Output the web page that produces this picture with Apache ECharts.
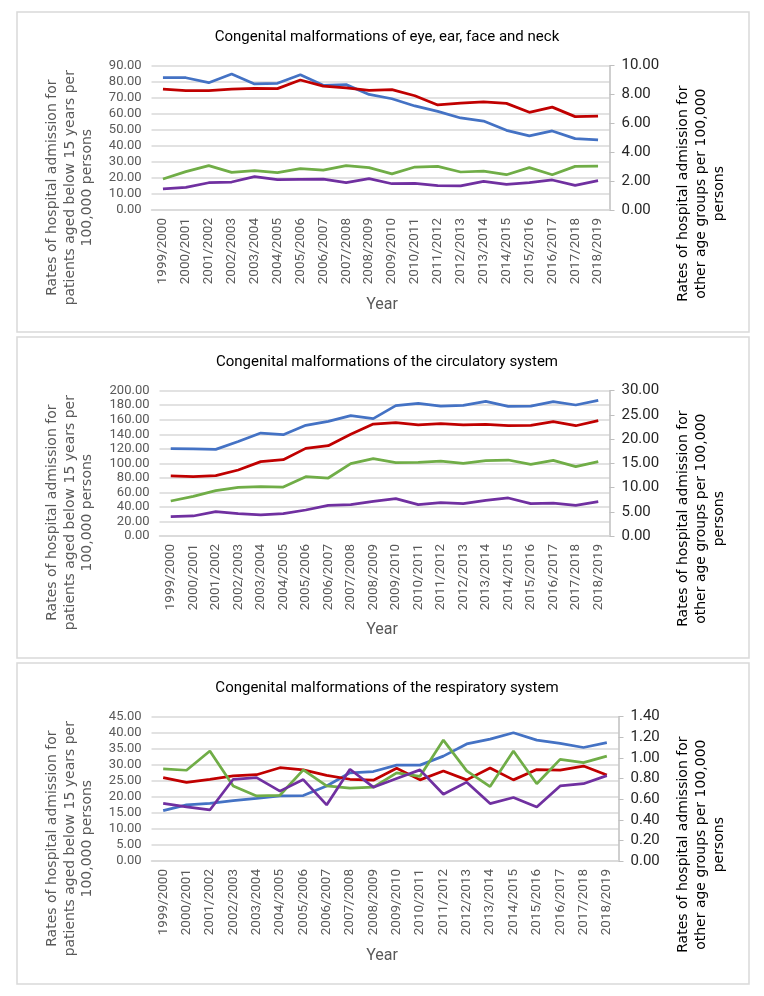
<!DOCTYPE html>
<html>
<head>
<meta charset="utf-8">
<script src="https://cdn.jsdelivr.net/npm/echarts@6/dist/echarts.min.js"></script>
<style>
  html, body { margin: 0; padding: 0; background: #fff; }
  #chart { width: 764px; height: 996px; }
</style>
</head>
<body>
<div id="chart"></div>
<script>
// years on the category axis
const years = ["1999/2000", "2000/2001", "2001/2002", "2002/2003", "2003/2004", "2004/2005", "2005/2006",
  "2006/2007", "2007/2008", "2008/2009", "2009/2010", "2010/2011", "2011/2012", "2012/2013", "2013/2014",
  "2014/2015", "2015/2016", "2016/2017", "2017/2018", "2018/2019"];

// eye, ear, face and neck
const eyeBlue = [82.5, 82.5, 79.4, 84.8, 78.6, 79.0, 84.4, 77.8, 78.2, 72.1, 69.4, 64.9, 61.5, 57.4, 55.5, 49.7, 46.2, 49.3, 44.5, 43.7];
const eyeGreen = [19.3, 23.9, 27.7, 23.5, 24.5, 23.3, 25.8, 24.9, 27.7, 26.4, 22.5, 26.8, 27.2, 23.7, 24.3, 22.0, 26.4, 22.0, 27.2, 27.4];
const eyeRed = [8.37, 8.27, 8.27, 8.37, 8.43, 8.41, 9.01, 8.59, 8.46, 8.29, 8.34, 7.92, 7.28, 7.41, 7.49, 7.39, 6.77, 7.13, 6.47, 6.51];
const eyePurple = [1.46, 1.57, 1.89, 1.94, 2.31, 2.10, 2.12, 2.14, 1.89, 2.17, 1.82, 1.84, 1.69, 1.67, 1.99, 1.78, 1.89, 2.08, 1.71, 2.03];

// circulatory system
const circBlue = [120.2, 120.0, 119.3, 130.0, 141.7, 139.4, 152.3, 157.8, 165.6, 161.5, 179.4, 182.6, 178.9, 179.8, 185.3, 178.4, 178.9, 184.9, 180.3, 186.7];
const circGreen = [48.2, 54.6, 62.4, 67.0, 67.9, 67.4, 81.7, 79.8, 99.5, 106.4, 100.9, 101.4, 103.2, 100.0, 103.7, 104.6, 98.6, 104.1, 95.4, 102.3];
const circRed = [12.39, 12.26, 12.45, 13.62, 15.35, 15.75, 18.09, 18.65, 20.99, 23.12, 23.40, 22.92, 23.19, 22.92, 23.06, 22.77, 22.85, 23.60, 22.77, 23.81];
const circPurple = [3.99, 4.13, 5.03, 4.61, 4.34, 4.61, 5.37, 6.33, 6.47, 7.16, 7.71, 6.47, 6.89, 6.68, 7.37, 7.85, 6.68, 6.81, 6.33, 7.08];

// respiratory system
const respBlue = [15.7, 17.5, 18.0, 18.8, 19.5, 20.3, 20.4, 23.4, 27.5, 27.9, 29.9, 29.9, 32.7, 36.5, 38.0, 40.0, 37.7, 36.7, 35.4, 36.9];
const respGreen = [28.7, 28.3, 34.3, 23.4, 20.3, 20.5, 28.4, 23.4, 22.7, 23.0, 27.5, 26.4, 37.7, 28.1, 23.2, 34.3, 24.1, 31.7, 30.7, 32.7];
const respRed = [0.809, 0.762, 0.793, 0.825, 0.837, 0.905, 0.884, 0.831, 0.793, 0.784, 0.899, 0.787, 0.874, 0.787, 0.902, 0.787, 0.887, 0.881, 0.921, 0.834];
const respPurple = [0.560, 0.526, 0.495, 0.793, 0.809, 0.678, 0.790, 0.544, 0.890, 0.716, 0.800, 0.884, 0.647, 0.765, 0.557, 0.616, 0.523, 0.728, 0.750, 0.828];

const titles = ["Congenital malformations of eye, ear, face and neck",
  "Congenital malformations of the circulatory system",
  "Congenital malformations of the respiratory system"];
const leftAxes = [[0, 90, 10], [0, 200, 20], [0, 45, 5]];
const rightAxes = [[0, 10, 2], [0, 30, 5], [0, 1.4, 0.2]];
const leftName = "Rates of hospital admission for\npatients aged below 15 years per\n100,000 persons";
const rightName = "Rates of hospital admission for\nother age groups per 100,000\npersons";

const panels = [
  { top: 12, height: 320, grid: { left: 151.5, right: 154.5, top: 65.7, height: 144.3 }, data: [eyeBlue, eyeRed, eyeGreen, eyePurple] },
  { top: 337, height: 321, grid: { left: 159.5, right: 154.5, top: 390.7, height: 145.3 }, data: [circBlue, circRed, circGreen, circPurple] },
  { top: 663, height: 321, grid: { left: 151.5, right: 145.5, top: 716.7, height: 144.3 }, data: [respBlue, respRed, respGreen, respPurple] }
];
const colors = ["#4472C4", "#C00000", "#70AD47", "#7030A0"];
const font = "Roboto, sans-serif";

const chart = echarts.init(document.getElementById("chart"));

const option = { animation: false, title: [], grid: [], xAxis: [], yAxis: [], series: [], graphic: [] };

panels.forEach(function (p, i) {
  option.graphic.push({
    type: "rect", shape: { x: 17, y: p.top, width: 732, height: p.height },
    style: { fill: "none", stroke: "#d9d9d9", lineWidth: 1.5 }, z: -1
  });
  option.title.push({
    text: titles[i], left: 382, textAlign: "center", top: p.grid.top - 41,
    textStyle: { fontFamily: font, fontSize: 15, fontWeight: "normal", color: "#000" }
  });
  option.grid.push(p.grid);
  option.xAxis.push({
    type: "category", gridIndex: i, data: years, boundaryGap: true,
    axisLine: { lineStyle: { color: "#d9d9d9", width: 1.5 } },
    axisTick: { show: false },
    axisLabel: { rotate: 90, interval: 0, margin: 8, color: "#595959", fontSize: 13.5, fontFamily: font }
  });
  option.yAxis.push({
    type: "value", gridIndex: i, position: "left",
    min: leftAxes[i][0], max: leftAxes[i][1], interval: leftAxes[i][2],
    axisLine: { show: false }, axisTick: { show: false },
    splitLine: { lineStyle: { color: "#d9d9d9", width: 1.5 } },
    axisLabel: { margin: 10, color: "#595959", fontSize: 13, fontFamily: font, showMinLabel: true, showMaxLabel: true, hideOverlap: false, formatter: v => v.toFixed(2) }
  });
  option.yAxis.push({
    type: "value", gridIndex: i, position: "right",
    min: rightAxes[i][0], max: rightAxes[i][1], interval: rightAxes[i][2],
    axisLine: { show: true, lineStyle: { color: "#bfbfbf", width: 1.5 } },
    axisTick: { show: true, length: 5, lineStyle: { color: "#bfbfbf" } },
    splitLine: { show: false },
    axisLabel: { margin: 12, color: "#262626", fontSize: 15, fontFamily: font, showMinLabel: true, showMaxLabel: true, formatter: v => v.toFixed(2) }
  });
  p.data.forEach(function (vals, k) {
    option.series.push({
      type: "line", xAxisIndex: i, yAxisIndex: 2 * i + (k % 2 === 1 ? 1 : 0),
      data: vals, symbol: "none", lineStyle: { color: colors[k], width: 2.75 }, itemStyle: { color: colors[k] }
    });
  });
  const midY = p.grid.top + 122;
  option.graphic.push({
    type: "text", x: 70, y: midY, rotation: Math.PI / 2,
    style: { text: leftName, font: "14px 'DejaVu Sans'", fill: "#595959", align: "center", verticalAlign: "middle", lineHeight: 17.5 }
  });
  option.graphic.push({
    type: "text", x: 701, y: midY + 6, rotation: Math.PI / 2,
    style: { text: rightName, font: "14px 'DejaVu Sans'", fill: "#000", align: "center", verticalAlign: "middle", lineHeight: 18 }
  });
  option.graphic.push({
    type: "text", x: 382, y: p.grid.top + 239,
    style: { text: "Year", font: "16px " + font, fill: "#595959", align: "center", verticalAlign: "middle" }
  });
});

chart.setOption(option);
</script>
</body>
</html>
